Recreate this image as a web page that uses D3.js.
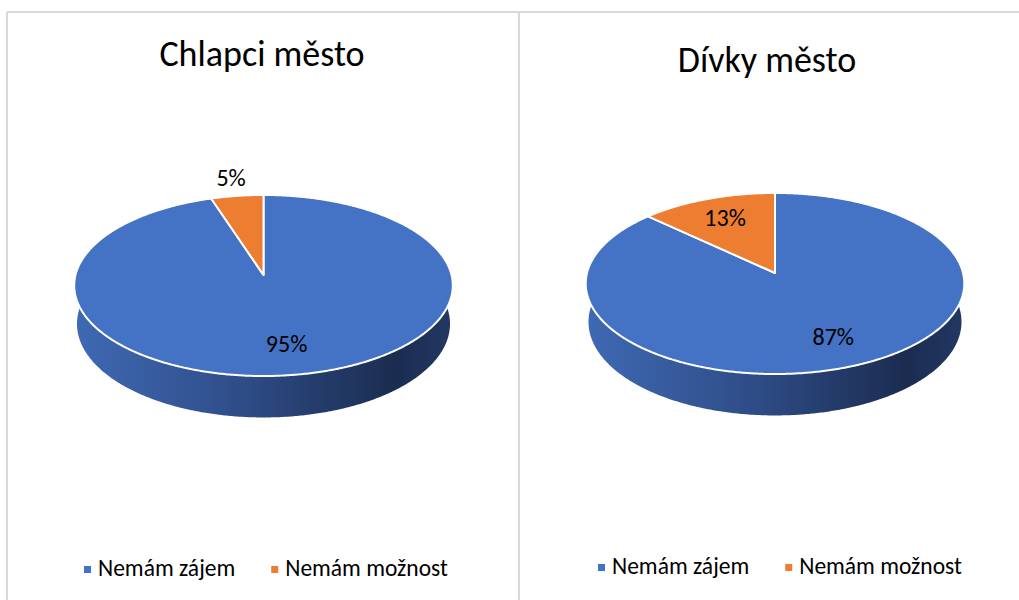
<!DOCTYPE html>
<html>
<head>
<meta charset="utf-8">
<script src="https://cdn.jsdelivr.net/npm/d3@7"></script>
<style>
  html, body { margin: 0; padding: 0; background: #ffffff; }
  svg { display: block; font-family: "Carlito", "Calibri", "Open Sans", sans-serif; }
</style>
</head>
<body>
<svg id="chart" width="1019" height="600"></svg>
<script>
// --- data -------------------------------------------------------------
const categories = ["Nemám zájem", "Nemám možnost"];
const titles = ["Chlapci město", "Dívky město"];
const boysCity = [95, 5];
const girlsCity = [87, 13];
const seriesValues = [boysCity, girlsCity];
const colors = ["#4472C4", "#ED7D31"];

// --- layout -----------------------------------------------------------
const W = 1019, H = 600;
const panelLayout = [
  { titleX: 262, titleY: 66, cx: 263.5, cy: 275, legendX: 84,  legendY: 576 },
  { titleX: 767, titleY: 72, cx: 775,   cy: 273, legendX: 598, legendY: 574 }
];

// 3D pie geometry: disc radius, tilt, camera distance and thickness
const R = 188;
const tilt = Math.asin(0.475);
const camD = 1426;
const thick = 44;

const svg = d3.select("#chart");
const defs = svg.append("defs");

// panel frame lines
const frame = svg.append("g").attr("stroke", "#d9d9d9").attr("stroke-width", 2).attr("fill", "none");
frame.append("line").attr("x1", 7).attr("x2", W).attr("y1", 12).attr("y2", 12);
frame.append("line").attr("x1", 7).attr("x2", 7).attr("y1", 12).attr("y2", H);
frame.append("line").attr("x1", 519).attr("x2", 519).attr("y1", 12).attr("y2", H);

const pie = d3.pie().sort(null).startAngle(0).endAngle(2 * Math.PI);
const color = d3.scaleOrdinal().domain(categories).range(colors);
const pct = d3.format(".0%");
const lineGen = d3.line();

// perspective projection of a point on the disc (angle clockwise from 12 o'clock)
function projector(cx, cy) {
  return function (theta, r, drop) {
    const X = r * R * Math.sin(theta);
    const Yc = r * R * Math.cos(theta);
    const Y3 = Yc * Math.sin(tilt) - drop * Math.cos(tilt);
    const Z = Yc * Math.cos(tilt) + drop * Math.sin(tilt);
    const s = camD / (camD + Z);
    return [cx + X * s, cy - Y3 * s];
  };
}

function arcPoints(proj, a, b, drop) {
  const n = Math.max(2, Math.ceil((b - a) / (Math.PI / 360)));
  return d3.range(n + 1).map(i => proj(a + (b - a) * i / n, 1, drop));
}

panelLayout.forEach((p, pi) => {
  const values = seriesValues[pi];
  const total = d3.sum(values);
  const data = categories.map((c, i) => ({ name: c, value: values[i] }));
  const arcs = pie.value(d => d.value)(data);
  const proj = projector(p.cx, p.cy);
  const g = svg.append("g");

  // side shading gradient
  const gradId = "side" + pi;
  const grad = defs.append("linearGradient").attr("id", gradId)
    .attr("gradientUnits", "userSpaceOnUse")
    .attr("x1", p.cx - R).attr("x2", p.cx + R).attr("y1", 0).attr("y2", 0);
  [[0, "#3f69b4"], [0.45, "#2e4c86"], [0.85, "#1b2c50"], [1, "#223863"]].forEach(([o, c]) =>
    grad.append("stop").attr("offset", o).attr("stop-color", c));

  // title
  g.append("text")
    .attr("x", p.titleX).attr("y", p.titleY)
    .attr("text-anchor", "middle")
    .attr("font-size", 36).attr("fill", "#000")
    .text(titles[pi]);

  // side walls
  g.selectAll("path.side").data(arcs).join("path")
    .attr("class", "side")
    .attr("d", d => {
      const top = arcPoints(proj, d.startAngle, d.endAngle, 0);
      const bottom = arcPoints(proj, d.startAngle, d.endAngle, thick).reverse();
      return lineGen(top.concat(bottom)) + "Z";
    })
    .attr("fill", `url(#${gradId})`);

  // top faces
  g.selectAll("path.top").data(arcs).join("path")
    .attr("class", "top")
    .attr("d", d => lineGen([proj(0, 0, 0)].concat(arcPoints(proj, d.startAngle, d.endAngle, 0))) + "Z")
    .attr("fill", d => color(d.data.name))
    .attr("stroke", "#ffffff").attr("stroke-width", 2).attr("stroke-linejoin", "round");

  // data labels: small slices get their label outside the disc
  g.selectAll("text.lbl").data(arcs).join("text")
    .attr("class", "lbl")
    .each(function (d) {
      const share = d.value / total;
      const mid = (d.startAngle + d.endAngle) / 2;
      const [x, y] = proj(mid, share < 0.1 ? 1.26 : 0.72, 0);
      d3.select(this).attr("x", x).attr("y", y + 8);
    })
    .attr("text-anchor", "middle")
    .attr("font-size", 24).attr("fill", "#000")
    .text(d => pct(d.value / total));

  // legend
  const leg = g.append("g");
  let lx = p.legendX;
  categories.forEach((c, i) => {
    leg.append("rect")
      .attr("x", lx).attr("y", p.legendY - 10)
      .attr("width", 7).attr("height", 7)
      .attr("fill", color(c));
    const t = leg.append("text")
      .attr("x", lx + 14).attr("y", p.legendY)
      .attr("font-size", 23.5).attr("fill", "#000")
      .text(c);
    lx += 14 + t.node().getComputedTextLength() + 36;
  });
});
</script>
</body>
</html>
